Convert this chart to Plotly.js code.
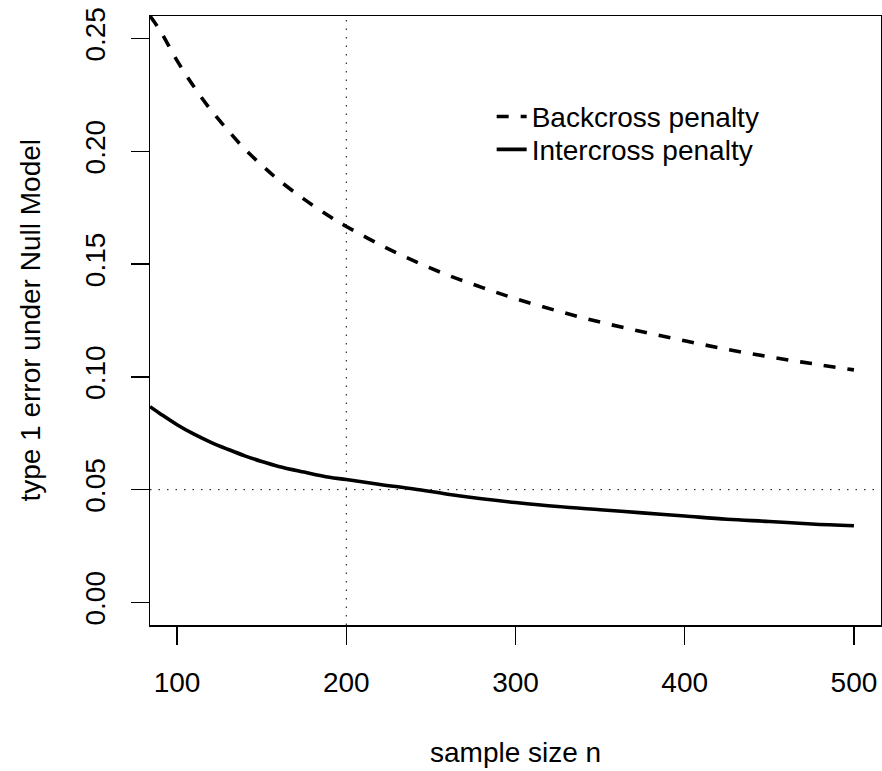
<!DOCTYPE html>
<html>
<head>
<meta charset="utf-8">
<script src="https://cdn.plot.ly/plotly-3.0.1.min.js"></script>
<style>
  html, body { margin: 0; padding: 0; background: #ffffff; }
  #chart { width: 882px; height: 771px; }
</style>
</head>
<body>
<div id="chart"></div>
<script>
// ---- data ----
const sampleSize = [84, 90, 100, 110, 120, 130, 140, 150, 160, 175, 190, 200, 220, 240, 260, 280, 300, 325, 350, 375, 400, 425, 450, 475, 500];
const backcrossPenalty = [0.260, 0.2535, 0.2402, 0.2286, 0.2183, 0.2094, 0.2010, 0.1939, 0.1873, 0.1788, 0.1712, 0.1667, 0.1586, 0.1514, 0.1451, 0.1397, 0.1347, 0.1292, 0.1243, 0.1200, 0.1160, 0.1122, 0.1089, 0.1059, 0.1031];
const intercrossPenalty = [0.0868, 0.0837, 0.0788, 0.0746, 0.0710, 0.0679, 0.0650, 0.0625, 0.0603, 0.0578, 0.0555, 0.0545, 0.0523, 0.0503, 0.0480, 0.0460, 0.0443, 0.0425, 0.0411, 0.0397, 0.0383, 0.0369, 0.0359, 0.0348, 0.0340];
const seriesNames = ["Backcross penalty", "Intercross penalty"];
const xTicks = [100, 200, 300, 400, 500];
const yTicks = [0.00, 0.05, 0.10, 0.15, 0.20, 0.25];
const refN = 200;        // vertical dotted reference line
const refAlpha = 0.05;   // horizontal dotted reference line
const xTitle = "sample size n";
const yTitle = "type 1 error under Null Model";

const FONT = "Liberation Sans, Arial, Helvetica, sans-serif";
const FS = 28;
const LFS = 28;

const traces = [
  {
    x: sampleSize, y: backcrossPenalty, name: seriesNames[0],
    type: "scatter", mode: "lines", legend: "legend",
    line: { color: "#000000", width: 3.6, dash: "12px,12px", shape: "spline" }
  },
  {
    x: sampleSize, y: intercrossPenalty, name: seriesNames[1],
    type: "scatter", mode: "lines", legend: "legend2",
    line: { color: "#000000", width: 3.6, shape: "spline" }
  }
];

const axisCommon = {
  showgrid: false, zeroline: false,
  showline: true, mirror: true, linecolor: "#000000", linewidth: 1.5,
  ticks: "outside", ticklen: 18, tickwidth: 1.5, tickcolor: "#000000",
  tickfont: { family: FONT, size: FS, color: "#000000" },
  ticklabelstandoff: 14,
  automargin: false, fixedrange: true
};

const legendCommon = {
  xanchor: "left", yanchor: "top",
  bgcolor: "rgba(0,0,0,0)", borderwidth: 0,
  font: { family: FONT, size: LFS, color: "#000000" }
};

const layout = {
  width: 882, height: 771,
  margin: { l: 150, r: 1, t: 16, b: 146 },
  paper_bgcolor: "#ffffff", plot_bgcolor: "#ffffff",
  font: { family: FONT, size: FS, color: "#000000" },
  showlegend: true,
  legend: Object.assign({}, legendCommon, { x: 0.4674, y: 0.8755 }),
  legend2: Object.assign({}, legendCommon, { x: 0.4674, y: 0.8215 }),
  xaxis: Object.assign({}, axisCommon, {
    range: [84, 516], tickmode: "array", tickvals: xTicks,
    ticktext: xTicks.map(String)
  }),
  yaxis: Object.assign({}, axisCommon, {
    range: [-0.01, 0.26], tickmode: "array", tickvals: yTicks,
    ticktext: yTicks.map(v => v.toFixed(2)), tickangle: -90
  }),
  shapes: [
    { type: "line", xref: "x", yref: "paper", x0: refN, x1: refN, y0: 0, y1: 1,
      line: { color: "#000000", width: 1, dash: "1.5px,7px" }, layer: "below" },
    { type: "line", xref: "paper", yref: "y", x0: 0, x1: 1, y0: refAlpha, y1: refAlpha,
      line: { color: "#000000", width: 1, dash: "1.5px,7px" }, layer: "below" }
  ],
  annotations: [
    { text: xTitle, xref: "paper", yref: "paper", x: 0.5, y: -0.21,
      xanchor: "center", yanchor: "middle", showarrow: false,
      font: { family: FONT, size: FS, color: "#000000" } },
    { text: yTitle, xref: "paper", yref: "paper", x: -0.164, y: 0.5,
      xanchor: "center", yanchor: "middle", showarrow: false, textangle: -90,
      font: { family: FONT, size: FS, color: "#000000" } }
  ]
};

Plotly.newPlot("chart", traces, layout, { displayModeBar: false, staticPlot: true });
</script>
</body>
</html>
